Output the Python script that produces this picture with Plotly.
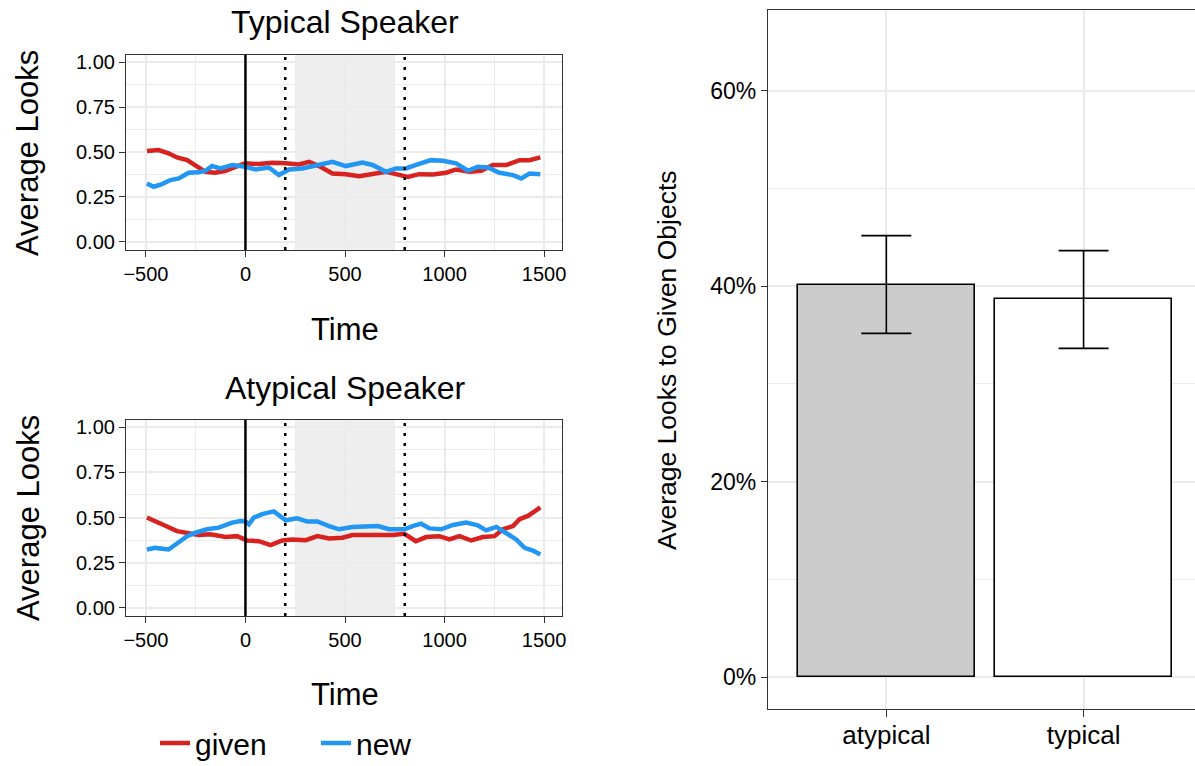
import plotly.graph_objects as go

# ---- time-course data: average looks by time (ms) ----
typ_given_t = [-495, -436, -386, -344, -293, -251, -201, -151, -100, -50, 0, 67, 135, 202, 269, 319, 370,
               437, 504, 571, 638, 706, 756, 815, 873, 941, 1008, 1058, 1125, 1184, 1243, 1310, 1377, 1427, 1481]
typ_given_y = [0.506, 0.511, 0.493, 0.470, 0.455, 0.422, 0.390, 0.385, 0.396, 0.418, 0.437, 0.433, 0.440,
               0.437, 0.431, 0.446, 0.422, 0.381, 0.377, 0.366, 0.377, 0.390, 0.377, 0.362, 0.377, 0.375,
               0.385, 0.403, 0.390, 0.396, 0.428, 0.428, 0.455, 0.455, 0.470]

typ_new_t = [-495, -461, -419, -377, -335, -285, -235, -201, -168, -126, -67, 0, 51, 118, 168, 219, 286, 336,
             437, 504, 588, 638, 706, 756, 806, 857, 932, 991, 1058, 1117, 1167, 1218, 1276, 1344, 1386, 1427, 1481]
typ_new_y = [0.325, 0.307, 0.322, 0.344, 0.353, 0.385, 0.387, 0.396, 0.422, 0.409, 0.428, 0.418, 0.403,
             0.414, 0.372, 0.403, 0.409, 0.422, 0.446, 0.422, 0.442, 0.428, 0.390, 0.409, 0.409, 0.428,
             0.455, 0.452, 0.437, 0.396, 0.418, 0.414, 0.385, 0.372, 0.353, 0.381, 0.377]

atyp_given_t = [-495, -453, -411, -344, -285, -235, -176, -100, -42, 9, 67, 126, 185, 235, 303, 361, 420, 487,
                538, 605, 672, 739, 798, 856, 907, 974, 1024, 1075, 1134, 1192, 1251, 1293, 1344, 1377, 1419, 1481]
atyp_given_y = [0.500, 0.481, 0.459, 0.425, 0.416, 0.403, 0.407, 0.392, 0.397, 0.373, 0.369, 0.347, 0.373,
                0.379, 0.375, 0.397, 0.384, 0.388, 0.403, 0.403, 0.397, 0.403, 0.410, 0.369, 0.392, 0.397,
                0.379, 0.397, 0.373, 0.392, 0.397, 0.435, 0.453, 0.491, 0.509, 0.556]

atyp_new_t = [-495, -453, -386, -335, -293, -251, -193, -134, -67, -25, 0, 17, 42, 84, 143, 202, 260, 311, 361,
              420, 470, 538, 605, 664, 722, 798, 840, 882, 924, 983, 1042, 1109, 1167, 1209, 1260, 1310, 1360,
              1402, 1444, 1481]
atyp_new_y = [0.323, 0.332, 0.323, 0.360, 0.397, 0.416, 0.435, 0.444, 0.472, 0.481, 0.478, 0.463, 0.500,
              0.519, 0.534, 0.485, 0.496, 0.478, 0.478, 0.453, 0.435, 0.448, 0.448, 0.453, 0.435, 0.435,
              0.453, 0.466, 0.440, 0.435, 0.459, 0.472, 0.457, 0.429, 0.448, 0.416, 0.379, 0.332, 0.317, 0.295]

# ---- summary data: proportion of looks to given objects ----
speaker = ["atypical", "typical"]
given_mean = [0.4017, 0.3864]
given_se = [0.050, 0.050]

# analysis window markers (ms)
onset = 0
window_start, window_end = 200, 800
shade_start, shade_end = 250, 750

W, H = 1195, 766
FONT = "Liberation Sans, Arial, Helvetica, sans-serif"
RED = "#D7221F"
BLUE = "#2196F3"
GRID = "#EBEBEB"
BORDER = "#333333"


def px_x(p):
    return p / W


def px_y(p):
    return 1 - p / H


fig = go.Figure()

panels = [
    ("x", "y", typ_given_t, typ_given_y, typ_new_t, typ_new_y, True),
    ("x2", "y2", atyp_given_t, atyp_given_y, atyp_new_t, atyp_new_y, False),
]
for xa, ya, gt, gy, nt, ny, show in panels:
    fig.add_trace(go.Scatter(x=gt, y=gy, mode="lines", name="given", legendgroup="given",
                             showlegend=show, line=dict(color=RED, width=4.5), xaxis=xa, yaxis=ya))
    fig.add_trace(go.Scatter(x=nt, y=ny, mode="lines", name="new", legendgroup="new",
                             showlegend=show, line=dict(color=BLUE, width=4.5), xaxis=xa, yaxis=ya))

# bars with standard-error whiskers
fig.add_trace(go.Bar(
    x=[1, 2], y=given_mean, width=0.9, showlegend=False,
    marker=dict(color=["#CCCCCC", "#FFFFFF"], line=dict(color="black", width=1.6)),
    error_y=dict(type="data", array=given_se, color="black", thickness=1.6, width=25),
    xaxis="x3", yaxis="y3",
))

time_axis = dict(
    range=[-600, 1590], tickvals=[-500, 0, 500, 1000, 1500],
    ticktext=["\u2212500", "0", "500", "1000", "1500"],
    showgrid=True, gridcolor=GRID, gridwidth=1.6,
    minor=dict(dtick=250, tick0=0, showgrid=True, gridcolor=GRID, gridwidth=0.8),
    showline=True, mirror=True, linecolor=BORDER, linewidth=1.2,
    ticks="outside", ticklen=6, tickcolor=BORDER, tickwidth=1.2,
    tickfont=dict(family=FONT, size=20, color="black"), zeroline=False,
)
looks_axis = dict(
    range=[-0.045, 1.04], tickvals=[0, 0.25, 0.5, 0.75, 1.0],
    ticktext=["0.00", "0.25", "0.50", "0.75", "1.00"],
    showgrid=True, gridcolor=GRID, gridwidth=1.6,
    minor=dict(dtick=0.125, tick0=0, showgrid=True, gridcolor=GRID, gridwidth=0.8),
    showline=True, mirror=True, linecolor=BORDER, linewidth=1.2,
    ticks="outside", ticklen=6, tickcolor=BORDER, tickwidth=1.2,
    tickfont=dict(family=FONT, size=20, color="black"), zeroline=False,
)

fig.update_layout(
    width=W, height=H,
    margin=dict(l=0, r=0, t=0, b=0, autoexpand=False),
    paper_bgcolor="white", plot_bgcolor="white",
    font=dict(family=FONT, color="black"),
    xaxis=dict(time_axis, domain=[px_x(126), px_x(562)], anchor="y"),
    yaxis=dict(looks_axis, domain=[px_y(250), px_y(55)], anchor="x"),
    xaxis2=dict(time_axis, domain=[px_x(126), px_x(562)], anchor="y2"),
    yaxis2=dict(looks_axis, domain=[px_y(616), px_y(420)], anchor="x2"),
    xaxis3=dict(
        domain=[px_x(768), 1.0], anchor="y3", range=[0.4, 2.565],
        tickvals=[1, 2], ticktext=speaker,
        showgrid=True, gridcolor=GRID, gridwidth=1.6,
        showline=True, mirror=True, linecolor=BORDER, linewidth=1.2,
        ticks="outside", ticklen=7, tickcolor=BORDER, tickwidth=1.2,
        ticklabelstandoff=-4,
        tickfont=dict(family=FONT, size=26, color="black"), zeroline=False,
    ),
    yaxis3=dict(
        domain=[px_y(709), px_y(10)], anchor="x3", range=[-0.0325, 0.6825],
        tickvals=[0, 0.2, 0.4, 0.6], ticktext=["0%", "20%", "40%", "60%"],
        showgrid=True, gridcolor=GRID, gridwidth=1.6,
        minor=dict(tickvals=[0.1, 0.3, 0.5], showgrid=True, gridcolor=GRID, gridwidth=0.8),
        showline=True, mirror=False, linecolor=BORDER, linewidth=1.2,
        ticks="outside", ticklen=6, tickcolor=BORDER, tickwidth=1.2,
        tickfont=dict(family=FONT, size=23, color="black"), zeroline=False,
    ),
    legend=dict(
        orientation="h", x=px_x(155), y=px_y(743), xanchor="left", yanchor="middle",
        font=dict(family=FONT, size=30, color="black"), entrywidth=116,
        bgcolor="rgba(0,0,0,0)", itemwidth=30,
    ),
    bargap=0,
)

# analysis window shading and time markers
for xr, yr in [("x", "y"), ("x2", "y2")]:
    fig.add_shape(type="rect", xref=xr, yref=f"{yr} domain", x0=shade_start, x1=shade_end, y0=0, y1=1,
                  fillcolor="rgba(0,0,0,0.065)", line=dict(width=0), layer="below")
    fig.add_shape(type="line", xref=xr, yref=f"{yr} domain", x0=onset, x1=onset, y0=0, y1=1,
                  line=dict(color="black", width=2.5), layer="above")
    for xv in (window_start, window_end):
        fig.add_shape(type="line", xref=xr, yref=f"{yr} domain", x0=xv, x1=xv, y0=0, y1=1,
                      line=dict(color="black", width=2.5, dash="3px,7px"), layer="above")

# panel titles and axis titles
texts = [
    ("Typical Speaker", 345, 22, 32, 0),
    ("Atypical Speaker", 345, 388, 32, 0),
    ("Time", 345, 329, 31, 0),
    ("Time", 345, 694, 31, 0),
    ("Average Looks", 28, 153, 31, -90),
    ("Average Looks", 28, 518, 31, -90),
    ("Average Looks to Given Objects", 667, 360, 26.5, -90),
]
for txt, xp, yp, size, ang in texts:
    fig.add_annotation(text=txt, x=px_x(xp), y=px_y(yp), xref="paper", yref="paper",
                       xanchor="center", yanchor="middle", showarrow=False, textangle=ang,
                       font=dict(family=FONT, size=size, color="black"))

fig.write_html("out.html")
